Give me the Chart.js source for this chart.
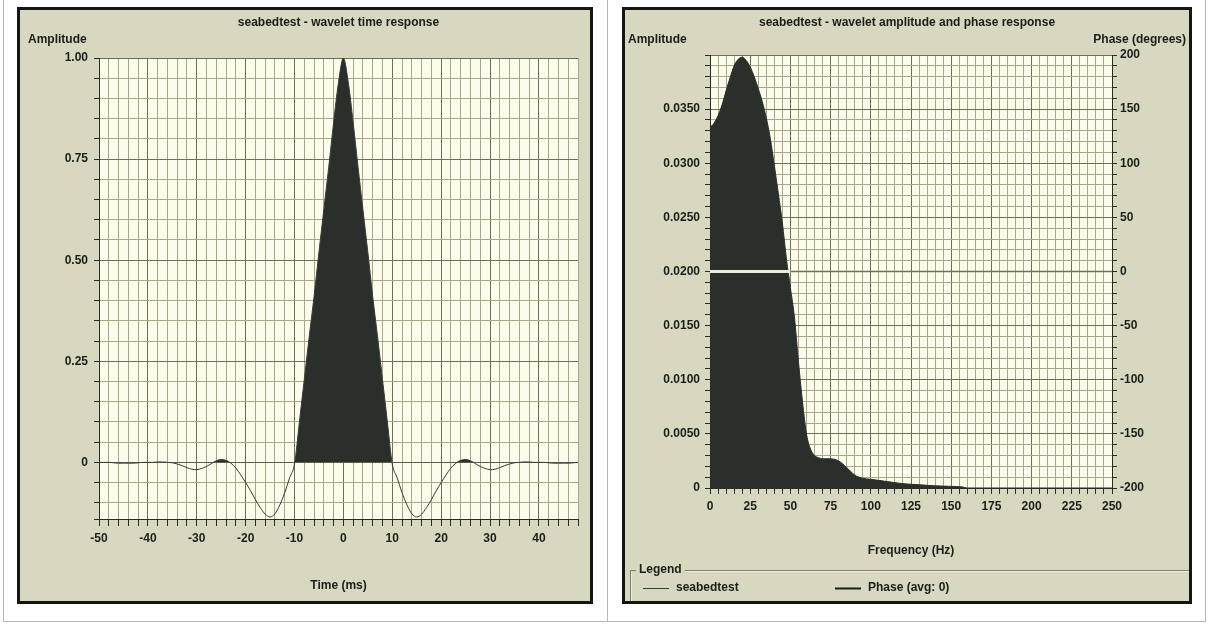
<!DOCTYPE html>
<html>
<head>
<meta charset="utf-8">
<script src="https://cdn.jsdelivr.net/npm/chart.js@4.4.1/dist/chart.umd.min.js"></script>
<style>
  html, body { margin:0; padding:0; background:#fff; width:1212px; height:624px; overflow:hidden; }
  .frame { position:absolute; top:-1px; height:623px; border:1px solid #b8b8b2; box-sizing:border-box; }
  .panel { position:absolute; top:7px; border:3px solid #141614; background:#d8d7bf; }
  canvas { display:block; }
</style>
</head>
<body>
<div class="frame" style="left:3px;width:605px;"></div>
<div class="frame" style="left:607px;width:599px;"></div>
<div class="panel" style="left:17px;width:570px;height:591px;"><canvas id="timeChart" width="570" height="591"></canvas></div>
<div class="panel" style="left:622px;width:564px;height:591px;"><canvas id="specChart" width="564" height="591"></canvas></div>
<script>
// wavelet time response (ms / amplitude)
var timeMs = [-50,-49,-48,-47,-46,-45,-44,-43,-42,-41,-40,-39,-38,-37,-36,-35,-34,-33,-32,-31,
  -30,-29,-28,-27,-26,-25,-24,-23,-22,-21,-20,-19,-18,-17,-16,-15,-14,-13,-12,-11,
  -10,-9,-8,-7,-6,-5,-4,-3,-2,-1,0,1,2,3,4,5,6,7,8,9,
  10,11,12,13,14,15,16,17,18,19,20,21,22,23,24,25,26,27,28,29,
  30,31,32,33,34,35,36,37,38,39,40,41,42,43,44,45,46,47,48];
var timeAmp = [0,0,0,-0.001,-0.002,-0.002,-0.002,-0.002,-0.001,0,0,0,0.001,0.001,0,-0.001,-0.004,-0.008,-0.013,-0.017,
  -0.018,-0.015,-0.01,-0.003,0.004,0.007,0.005,-0.002,-0.014,-0.031,-0.05,-0.07,-0.092,-0.112,-0.128,-0.135,-0.127,-0.105,-0.075,-0.038,
  -0.004,0.1,0.205,0.31,0.41,0.52,0.625,0.73,0.84,0.94,1.0,0.94,0.84,0.73,0.625,0.52,0.41,0.31,0.205,0.1,
  -0.004,-0.038,-0.075,-0.105,-0.127,-0.135,-0.128,-0.112,-0.092,-0.07,-0.05,-0.031,-0.014,-0.002,0.005,0.007,0.004,-0.003,-0.01,-0.015,
  -0.018,-0.017,-0.013,-0.008,-0.004,-0.001,0,0.001,0.001,0,0,0,-0.001,-0.002,-0.002,-0.002,-0.002,-0.001,0];

// amplitude and phase spectrum
var freqHz = [0,2.5,5,7.5,10,12.5,15,17.5,20,22.5,25,27.5,30,32.5,35,37.5,40,42.5,45,47.5,
  50,52.5,55,57.5,60,62.5,65,67.5,70,75,80,85,90,95,100,110,120,130,140,150,157,160,175,200,225,250];
var specAmp = [0.0333,0.0337,0.0344,0.0354,0.0367,0.0379,0.0390,0.0396,0.0398,0.0395,0.0389,0.0380,0.0369,0.0357,0.0342,0.0323,0.0298,0.0272,0.0245,0.0212,
  0.0185,0.0158,0.0117,0.0080,0.0050,0.0036,0.0030,0.0028,0.0027,0.0027,0.0025,0.0019,0.0012,0.0009,0.0008,0.0006,0.0004,0.0003,0.0002,0.00015,0.0001,0,0,0,0,0];
var phaseDeg = [0,0,0,0,0,0,0,0,0,0,0,0,0,0,0,0,0,0,0,0,
  0,0,0,0,0,0,0,0,0,0,0,0,0,0,0,0,0,0,0,0,0,0,0,0,0,0];

var FONT = "'Liberation Sans Narrow', 'Liberation Sans', sans-serif";
var FS = 12;
var TEXT = '#1c1d19';
var GRID_MINOR = '#aaa884';
var GRID_MAJOR = '#706e54';
var AXIS = '#2a2b25';
var DARK = '#2a2f2c';

Chart.defaults.font.family = FONT;
Chart.defaults.font.weight = 'bold';
Chart.defaults.font.size = FS;
Chart.defaults.color = TEXT;

function isMultiple(v, m) {
  return Math.abs(v / m - Math.round(v / m)) < 1e-6;
}

var plotBackground = {
  id: 'plotBackground',
  beforeDraw: function(chart) {
    var a = chart.chartArea, ctx = chart.ctx;
    ctx.save();
    ctx.fillStyle = '#fcfcec';
    ctx.fillRect(a.left, a.top, a.right - a.left, a.bottom - a.top);
    ctx.restore();
  }
};

var axisCaptions = {
  id: 'axisCaptions',
  afterDraw: function(chart, args, opts) {
    var ctx = chart.ctx;
    ctx.save();
    ctx.font = 'bold ' + FS + 'px ' + FONT;
    ctx.fillStyle = TEXT;
    ctx.textBaseline = 'middle';
    (opts.items || []).forEach(function(it) {
      ctx.textAlign = it.align || 'left';
      ctx.fillText(it.text, it.x, it.y);
    });
    ctx.restore();
  }
};

var groupLegend = {
  id: 'groupLegend',
  afterDraw: function(chart, args, opts) {
    if (!opts.display) return;
    var ctx = chart.ctx, w = chart.width, h = chart.height;
    ctx.save();
    ctx.font = 'bold ' + FS + 'px ' + FONT;
    ctx.textBaseline = 'middle';
    var tw = ctx.measureText(opts.title).width;
    ctx.lineWidth = 1;
    ctx.strokeStyle = '#7e7d68';
    ctx.beginPath();
    ctx.moveTo(opts.x + 0.5, h);
    ctx.lineTo(opts.x + 0.5, opts.y + 0.5);
    ctx.lineTo(opts.x + 6, opts.y + 0.5);
    ctx.moveTo(opts.x + 12 + tw, opts.y + 0.5);
    ctx.lineTo(w, opts.y + 0.5);
    ctx.stroke();
    ctx.strokeStyle = '#f1f0e0';
    ctx.beginPath();
    ctx.moveTo(opts.x + 1.5, h);
    ctx.lineTo(opts.x + 1.5, opts.y + 1.5);
    ctx.moveTo(opts.x + 12 + tw, opts.y + 1.5);
    ctx.lineTo(w, opts.y + 1.5);
    ctx.stroke();
    ctx.fillStyle = TEXT;
    ctx.textAlign = 'left';
    ctx.fillText(opts.title, opts.x + 9, opts.y);
    chart.data.datasets.forEach(function(ds, i) {
      var lx = opts.itemX[i];
      ctx.strokeStyle = opts.colors[i];
      ctx.lineWidth = opts.widths[i];
      ctx.beginPath();
      ctx.moveTo(lx, opts.itemY + 0.5);
      ctx.lineTo(lx + opts.lineLen, opts.itemY + 0.5);
      ctx.stroke();
      ctx.fillText(ds.label, lx + opts.lineLen + 7, opts.itemY);
    });
    ctx.restore();
  }
};

function gridColor(major) {
  return function(c) { return isMultiple(c.tick.value, major) ? GRID_MAJOR : GRID_MINOR; };
}

// left: time response
new Chart(document.getElementById('timeChart'), {
  type: 'line',
  data: {
    datasets: [{
      label: 'seabedtest',
      data: timeMs.map(function(t, i) { return {x: t, y: timeAmp[i]}; }),
      borderColor: '#3a3b36',
      borderWidth: 1,
      pointRadius: 0,
      cubicInterpolationMode: 'monotone',
      fill: {target: 'origin', above: DARK, below: 'rgba(0,0,0,0)'}
    }]
  },
  options: {
    responsive: false,
    animation: false,
    layout: {padding: {left: 0, right: 12, top: 0, bottom: 0}},
    plugins: {
      legend: {display: false},
      tooltip: {enabled: false},
      title: {display: true, text: 'seabedtest - wavelet time response', fullSize: false,
        font: {size: FS, weight: 'bold'}, color: TEXT, padding: {top: 5, bottom: 28.6}},
      axisCaptions: {items: [{text: 'Amplitude', x: 8, y: 30, align: 'left'}]}
    },
    scales: {
      x: {
        type: 'linear', min: -50, max: 48,
        afterFit: function(s) { s.height = 82; },
        grid: {color: gridColor(10), tickColor: AXIS, tickLength: 7},
        border: {color: AXIS},
        ticks: {stepSize: 2, autoSkip: false, maxRotation: 0, minRotation: 0, padding: 5,
          callback: function(v) { return isMultiple(v, 10) ? String(Math.round(v)) : ''; }},
        title: {display: true, text: 'Time (ms)', color: TEXT, font: {size: FS, weight: 'bold'}, padding: {top: 0, bottom: 8}}
      },
      y: {
        min: -0.14, max: 1.0,
        afterFit: function(s) { s.width = 79; },
        grid: {color: gridColor(0.25), tickColor: AXIS, tickLength: 5},
        border: {color: AXIS},
        ticks: {stepSize: 0.05, autoSkip: false, padding: 6,
          callback: function(v) { return isMultiple(v, 0.25) ? (Math.abs(v) < 1e-9 ? '0' : v.toFixed(2)) : ''; }}
      }
    }
  },
  plugins: [plotBackground, axisCaptions]
});

// right: amplitude and phase response
new Chart(document.getElementById('specChart'), {
  type: 'line',
  data: {
    datasets: [{
      label: 'seabedtest',
      yAxisID: 'y',
      order: 1,
      data: freqHz.map(function(f, i) { return {x: f, y: specAmp[i]}; }),
      borderColor: DARK,
      backgroundColor: DARK,
      borderWidth: 1,
      pointRadius: 0,
      cubicInterpolationMode: 'monotone',
      fill: 'origin'
    }, {
      label: 'Phase (avg: 0)',
      yAxisID: 'y2',
      order: 0,
      data: freqHz.map(function(f, i) { return {x: f, y: phaseDeg[i]}; }),
      borderColor: GRID_MAJOR,
      borderWidth: 1.5,
      pointRadius: 0,
      fill: false,
      segment: {
        borderColor: function(c) { return specAmp[c.p0DataIndex] > 0.0200 ? '#eeeed8' : GRID_MAJOR; },
        borderWidth: function(c) { return specAmp[c.p0DataIndex] > 0.0200 ? 3 : 1.5; }
      }
    }]
  },
  options: {
    responsive: false,
    animation: false,
    layout: {padding: {left: 0, right: 0, top: 0, bottom: 40}},
    plugins: {
      legend: {display: false},
      tooltip: {enabled: false},
      title: {display: true, text: 'seabedtest - wavelet amplitude and phase response',
        font: {size: FS, weight: 'bold'}, color: TEXT, padding: {top: 5, bottom: 25.6}},
      axisCaptions: {items: [
        {text: 'Amplitude', x: 3, y: 30, align: 'left'},
        {text: 'Phase (degrees)', x: 561, y: 30, align: 'right'}
      ]},
      groupLegend: {display: true, title: 'Legend', x: 5, y: 560, itemX: [18, 210], itemY: 578,
        lineLen: 26, colors: ['#3a3b36', '#1c1d19'], widths: [1, 2]}
    },
    scales: {
      x: {
        type: 'linear', min: 0, max: 250,
        afterFit: function(s) { s.height = 73; },
        grid: {color: gridColor(25), tickColor: AXIS, tickLength: 6},
        border: {color: AXIS},
        ticks: {stepSize: 5, autoSkip: false, maxRotation: 0, minRotation: 0, padding: 5,
          callback: function(v) { return isMultiple(v, 25) ? String(Math.round(v)) : ''; }},
        title: {display: true, text: 'Frequency (Hz)', color: TEXT, font: {size: FS, weight: 'bold'}, padding: {top: 0, bottom: 3}}
      },
      y: {
        position: 'left', min: 0, max: 0.04,
        afterFit: function(s) { s.width = 85; },
        grid: {color: gridColor(0.005), tickColor: AXIS, tickLength: 5},
        border: {color: AXIS},
        ticks: {stepSize: 0.001, autoSkip: false, padding: 5,
          callback: function(v) {
            if (!isMultiple(v, 0.005) || v > 0.0399) return '';
            return Math.abs(v) < 1e-9 ? '0' : v.toFixed(4);
          }}
      },
      y2: {
        position: 'right', min: -200, max: 200,
        afterFit: function(s) { s.width = 77; },
        grid: {drawOnChartArea: false, tickColor: AXIS, tickLength: 5},
        border: {color: AXIS},
        ticks: {stepSize: 10, autoSkip: false, padding: 3,
          callback: function(v) { return isMultiple(v, 50) ? String(Math.round(v)) : ''; }}
      }
    }
  },
  plugins: [plotBackground, axisCaptions, groupLegend]
});
</script>
</body>
</html>
